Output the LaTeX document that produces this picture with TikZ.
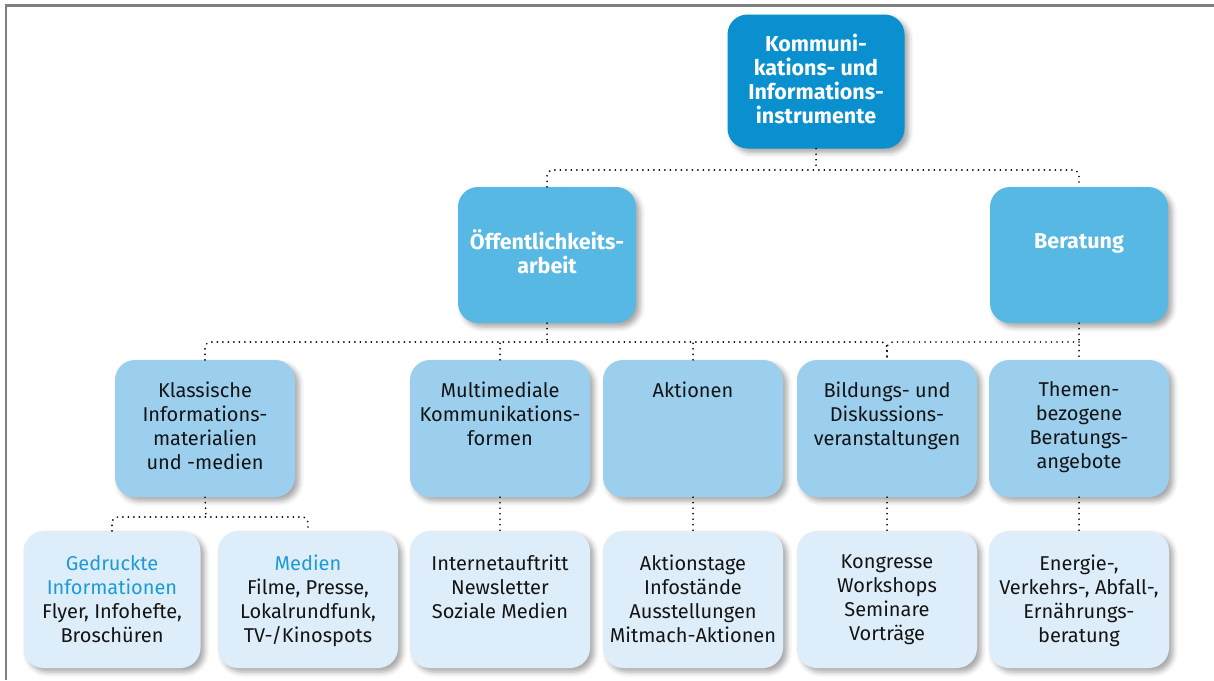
\documentclass[tikz,border=0pt]{standalone}
\usepackage{fontspec}
\setmainfont{Fira Sans}
\usetikzlibrary{shadows.blur}
\definecolor{blueA}{HTML}{0A8FCF}
\definecolor{blueB}{HTML}{56B8E3}
\definecolor{blueC}{HTML}{9CCFEE}
\definecolor{blueD}{HTML}{DDEEFA}
\definecolor{blueT}{HTML}{1E9AD6}
\definecolor{framegray}{HTML}{808080}
\definecolor{textdark}{HTML}{141414}
\begin{document}
\begin{tikzpicture}[x=1pt, y=-1pt,
  box/.style={rounded corners=20pt, minimum width=180pt, minimum height=137pt, inner sep=0pt,
    blur shadow={shadow xshift=4pt, shadow yshift=-4pt, shadow blur radius=5pt, shadow opacity=35}},
  lvlone/.style={box, fill=blueA, minimum width=177pt, minimum height=134pt},
  lvltwo/.style={box, fill=blueB, minimum width=178pt, minimum height=136pt},
  lvlthree/.style={box, fill=blueC},
  lvlfour/.style={box, fill=blueD},
  txtwhite/.style={align=center, inner sep=0pt, text=white, font=\bfseries\fontsize{21.5}{24}\selectfont},
  txtdark/.style={align=center, inner sep=0pt, text=textdark, font=\fontsize{20}{24}\selectfont},
  conn/.style={line width=1.9pt, dash pattern=on 0pt off 5.5pt, line cap=round, rounded corners=6pt}]
\useasboundingbox (0,0) rectangle (1214,680);
\draw[framegray, line width=2.5pt] (1214,5.5) -- (6,5.5) -- (6,680);
% top level
\node[lvlone, label={[txtwhite, below=20pt]north:{Kommuni-\\kations- und\\Informations-\\instrumente}}] (kom) at (816,81.5) {};
% second level
\node[lvltwo, label={[txtwhite, below=43pt]north:{Öffentlichkeits-\\arbeit}}] (oeff) at (547,255) {};
\node[lvltwo, label={[txtwhite, below=47pt]north:{Beratung}}] (ber) at (1079,255) {};
% third level
\node[lvlthree, label={[txtdark, below=22pt]north:{Klassische\\Informations-\\materialien\\und -medien}}] (klass) at (205,428.5) {};
\node[lvlthree, label={[txtdark, below=22pt]north:{Multimediale\\Kommunikations-\\formen}}] (multi) at (500,428.5) {};
\node[lvlthree, label={[txtdark, below=22pt]north:{Aktionen}}] (akt) at (693,428.5) {};
\node[lvlthree, label={[txtdark, below=22pt]north:{Bildungs- und\\Diskussions-\\veranstaltungen}}] (bild) at (887,428.5) {};
\node[lvlthree, label={[txtdark, below=22pt]north:{Themen-\\bezogene\\Beratungs-\\angebote}}] (them) at (1079,428.5) {};
% fourth level
\node[lvlfour, minimum width=177pt, label={[txtdark, below=24pt]north:{\textcolor{blueT}{Gedruckte}\\\textcolor{blueT}{Informationen}\\Flyer, Infohefte,\\Broschüren}}] (gedr) at (112,599.5) {};
\node[lvlfour, label={[txtdark, below=24pt]north:{\textcolor{blueT}{Medien}\\Filme, Presse,\\Lokalrundfunk,\\TV-/Kinospots}}] (med) at (308,599.5) {};
\node[lvlfour, label={[txtdark, below=24pt]north:{Internetauftritt\\Newsletter\\Soziale Medien}}] (inet) at (500,599.5) {};
\node[lvlfour, label={[txtdark, below=24pt]north:{Aktionstage\\Infostände\\Ausstellungen\\Mitmach-Aktionen}}] (aktt) at (693,599.5) {};
\node[lvlfour, label={[txtdark, below=24pt]north:{Kongresse\\Workshops\\Seminare\\Vorträge}}] (kongr) at (887,599.5) {};
\node[lvlfour, label={[txtdark, below=24pt]north:{Energie-,\\Verkehrs-, Abfall-,\\Ernährungs-\\beratung}}] (energ) at (1079,599.5) {};
% connectors
\coordinate (j1) at (816,170);
\coordinate (j2) at (547,342);
\coordinate (j3) at (206,517);
\draw[conn] (kom.south) -- (j1);
\draw[conn] (oeff.north) |- (j1) -| (ber.north);
\draw[conn] (oeff.south) -- (j2);
\draw[conn] (klass.north) |- (j2) -| (bild.north);
\draw[conn] (multi.north) -- (multi.north |- j2);
\draw[conn] (akt.north) -- (akt.north |- j2);
\draw[conn] (ber.south) -- (them.north);
\draw[conn] (ber.south |- j2) -| (bild.north);
\draw[conn] (klass.south) -- (j3);
\draw[conn] (gedr.north) |- (j3) -| (med.north);
\draw[conn] (multi.south) -- (inet.north);
\draw[conn] (akt.south) -- (aktt.north);
\draw[conn] (bild.south) -- (kongr.north);
\draw[conn] (them.south) -- (energ.north);
\end{tikzpicture}
\end{document}
